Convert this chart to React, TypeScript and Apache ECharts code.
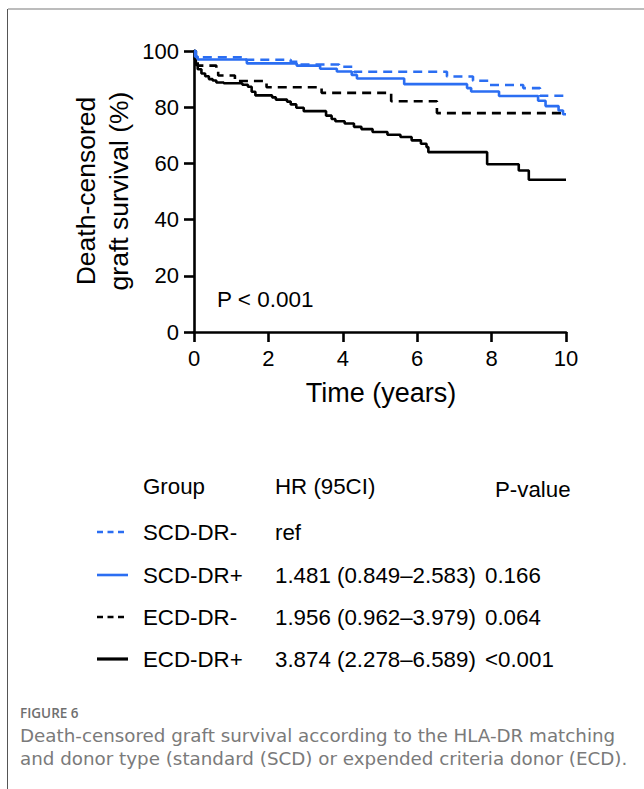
import React, { useEffect, useRef } from "react";
import * as echarts from "echarts";

// Kaplan-Meier step data (time in years, survival %)
const scdNegT = [0, 0.05, 1.35, 2.6, 2.8, 3.9, 4.3, 6.8, 7.5, 7.95, 8.85, 9.3, 10];
const scdNegV = [100, 97.8, 96.9, 96.2, 95.2, 94.4, 92.6, 90.9, 89.4, 87.9, 86.8, 84.1, 84.1];

const scdPosT = [0, 0.03, 0.1, 1.42, 2.76, 3.39, 3.84, 4.24, 4.38, 5.65, 7.34, 7.45, 8.2, 9.25, 9.45, 9.8, 9.92, 10];
const scdPosV = [100, 98, 97, 95.6, 94.8, 93.7, 92.7, 91.5, 90.2, 88.2, 86.8, 85.6, 84, 82.3, 80.4, 78.8, 77.5, 77.5];

const ecdNegT = [0, 0.05, 0.1, 0.6, 0.65, 1.1, 1.95, 3.43, 5.3, 6.53, 9.9];
const ecdNegV = [100, 97, 94.8, 93, 91.3, 89.3, 87.1, 85.1, 82.1, 77.9, 77.9];

const ecdPosT = [0, 0.02, 0.05, 0.1, 0.2, 0.3, 0.4, 0.5, 0.6, 0.8, 1.3, 1.45, 1.55, 1.65, 2.1, 2.2, 2.5, 2.6, 2.75, 2.95, 3.55, 3.7, 3.8, 4.05, 4.3, 4.5, 4.8, 5.2, 5.55, 5.85, 6.1, 6.25, 6.3, 7.88, 8.73, 9.0, 10];
const ecdPosV = [100, 97, 95, 93.5, 92, 91, 90, 89.5, 88.8, 88.5, 88, 87.3, 85.5, 84.2, 83.5, 82.7, 82, 81, 79.8, 78.6, 77, 75.8, 75, 74.2, 73, 72.2, 71.2, 70.2, 69.4, 68.2, 67, 65.8, 64, 59.7, 57.5, 54.2, 54.2];

const groups = ["SCD-DR-", "SCD-DR+", "ECD-DR-", "ECD-DR+"];
const hrTexts = ["ref", "1.481 (0.849\u20132.583)", "1.956 (0.962\u20133.979)", "3.874 (2.278\u20136.589)"];
const pTexts = ["", "0.166", "0.064", "<0.001"];
const captionLines = [
  "Death-censored graft survival according to the HLA-DR matching",
  "and donor type (standard (SCD) or expended criteria donor (ECD).",
];

const BLUE = "#2b6ef2";
const FONT = "'Liberation Sans', Arial, sans-serif";
const CAP_FONT = "'Open Sans', 'Noto Sans', sans-serif";
const CAP_BODY_FONT = "'DejaVu Sans', sans-serif";
const LEG = `22.3px ${FONT}`;

const pairs = (t: number[], v: number[]) => t.map((x, i) => [x, v[i]]);

export default function App() {
  const ref = useRef<HTMLDivElement>(null);
  useEffect(() => {
    if (!ref.current) return;
    const chart = echarts.init(ref.current, null, { renderer: "svg" });

    const styles = [
      { color: BLUE, type: [9, 6] as any },
      { color: BLUE, type: "solid" as any },
      { color: "#000", type: [9, 6] as any },
      { color: "#000", type: "solid" as any },
    ];
    const datas = [
      pairs(scdNegT, scdNegV),
      pairs(scdPosT, scdPosV),
      pairs(ecdNegT, ecdNegV),
      pairs(ecdPosT, ecdPosV),
    ];
    const order = [3, 2, 1, 0];
    const series = order.map((i) => ({
      name: groups[i],
      type: "line",
      step: "end",
      showSymbol: false,
      clip: false,
      data: datas[i],
      lineStyle: { color: styles[i].color, width: 2.6, type: styles[i].type },
      itemStyle: { color: styles[i].color },
    }));

    const rowY = [532, 575, 617, 659];
    const legendGraphics: any[] = [];
    groups.forEach((g, i) => {
      legendGraphics.push({
        type: "line",
        shape: { x1: 97, y1: rowY[i], x2: 128, y2: rowY[i] },
        style: {
          stroke: styles[i].color,
          lineWidth: i === 3 ? 3.2 : 2.6,
          lineDash: i % 2 === 0 ? [6, 4.5] : null,
        },
      });
      legendGraphics.push({
        type: "text",
        x: 143,
        y: rowY[i],
        style: { text: g, font: LEG, fill: "#000", textAlign: "left", textVerticalAlign: "middle" },
      });
      legendGraphics.push({
        type: "text",
        x: 275,
        y: rowY[i],
        style: { text: hrTexts[i], font: LEG, fill: "#000", textAlign: "left", textVerticalAlign: "middle" },
      });
      if (pTexts[i]) {
        legendGraphics.push({
          type: "text",
          x: 485,
          y: rowY[i],
          style: { text: pTexts[i], font: LEG, fill: "#000", textAlign: "left", textVerticalAlign: "middle" },
        });
      }
    });

    const captionGraphics = captionLines.map((line, i) => ({
      type: "text",
      x: 20,
      y: 735 + i * 23.5,
      style: {
        text: line,
        font: `18.3px ${CAP_BODY_FONT}`,
        fill: "#7a7a7a",
        textAlign: "left",
        textVerticalAlign: "middle",
      },
    }));

    chart.setOption({
      animation: false,
      backgroundColor: "#fff",
      grid: { left: 194, right: 78, top: 51, bottom: 457, containLabel: false },
      xAxis: {
        type: "value",
        min: 0,
        max: 10,
        interval: 2,
        axisLine: { show: true, lineStyle: { color: "#000", width: 2.6 } },
        axisTick: { show: true, length: 10, lineStyle: { color: "#000", width: 2.6 } },
        axisLabel: { color: "#000", fontSize: 22, fontFamily: FONT, margin: 15 },
        splitLine: { show: false },
      },
      yAxis: {
        type: "value",
        min: 0,
        max: 100,
        interval: 20,
        axisLine: { show: true, lineStyle: { color: "#000", width: 2.6 } },
        axisTick: { show: true, length: 10, lineStyle: { color: "#000", width: 2.6 } },
        axisLabel: { color: "#000", fontSize: 22, fontFamily: FONT, margin: 15 },
        splitLine: { show: false },
      },
      series,
      graphic: [
        { type: "line", shape: { x1: 8, y1: 9, x2: 644, y2: 9 }, style: { stroke: "#a6a6a6", lineWidth: 1.5 } },
        { type: "line", shape: { x1: 7.5, y1: 9, x2: 7.5, y2: 789 }, style: { stroke: "#555", lineWidth: 1 } },
        {
          type: "text",
          x: 86,
          y: 191,
          rotation: Math.PI / 2,
          style: { text: "Death-censored", font: `26.5px ${FONT}`, fill: "#000", textAlign: "center", textVerticalAlign: "middle" },
        },
        {
          type: "text",
          x: 119,
          y: 191,
          rotation: Math.PI / 2,
          style: { text: "graft survival (%)", font: `26.5px ${FONT}`, fill: "#000", textAlign: "center", textVerticalAlign: "middle" },
        },
        {
          type: "text",
          x: 381,
          y: 393,
          style: { text: "Time (years)", font: `27px ${FONT}`, fill: "#000", textAlign: "center", textVerticalAlign: "middle" },
        },
        {
          type: "text",
          x: 217,
          y: 299,
          style: { text: "P < 0.001", font: `22.5px ${FONT}`, fill: "#000", textAlign: "left", textVerticalAlign: "middle" },
        },
        {
          type: "text",
          x: 143,
          y: 486,
          style: { text: "Group", font: LEG, fill: "#000", textAlign: "left", textVerticalAlign: "middle" },
        },
        {
          type: "text",
          x: 275,
          y: 486,
          style: { text: "HR (95CI)", font: LEG, fill: "#000", textAlign: "left", textVerticalAlign: "middle" },
        },
        {
          type: "text",
          x: 495,
          y: 489,
          style: { text: "P-value", font: LEG, fill: "#000", textAlign: "left", textVerticalAlign: "middle" },
        },
        ...legendGraphics,
        {
          type: "text",
          x: 20,
          y: 713,
          style: { text: "FIGURE 6", font: `600 13.5px ${CAP_FONT}`, fill: "#6f6f6f", textAlign: "left", textVerticalAlign: "middle" },
        },
        ...captionGraphics,
      ],
    });
    return () => chart.dispose();
  }, []);
  return <div ref={ref} style={{ position: "fixed", left: 0, top: 0, width: 644, height: 789 }} />;
}
